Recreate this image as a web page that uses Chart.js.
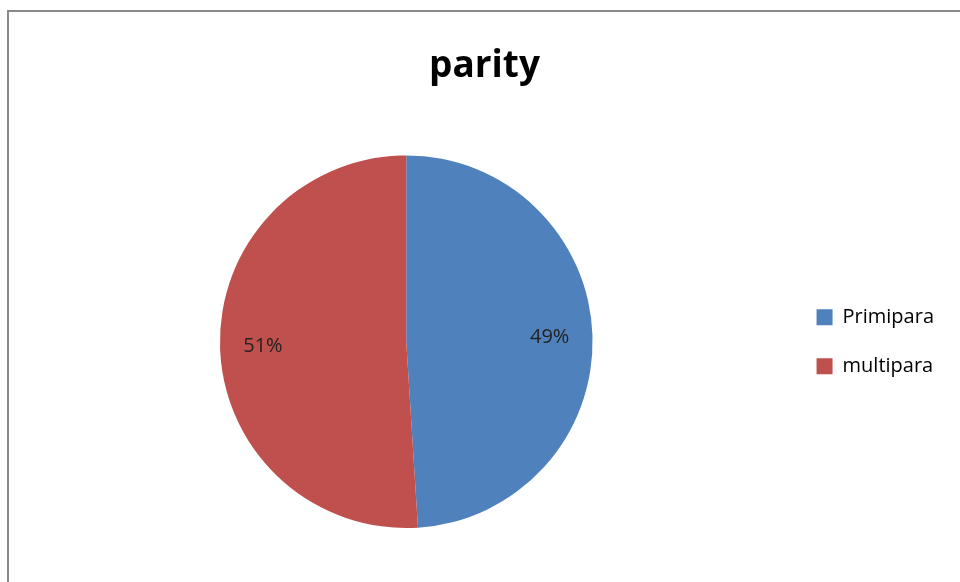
<!DOCTYPE html>
<html>
<head>
<meta charset="utf-8">
<script src="https://cdn.jsdelivr.net/npm/chart.js@4"></script>
<style>
  html, body { margin: 0; padding: 0; background: #fff; }
  #frame {
    position: absolute; left: 0; top: 0; width: 960px; height: 582px;
  }
  #frame:before {
    content: ''; position: absolute; left: 7px; top: 10px; right: -5px; bottom: -5px;
    border-left: 2px solid #8a8a8a; border-top: 2px solid #8a8a8a;
  }
  canvas { position: absolute; left: 0; top: 0; }
</style>
</head>
<body>
<div id="frame"><canvas id="ctx_parity" width="960" height="582"></canvas></div>
<script>
const categories = ['Primipara', 'multipara'];
const values = [49, 51];
const sliceColors = ['#4f81bd', '#c0504d'];
const chartTitle = 'parity';

const ctx_parity = document.getElementById('ctx_parity');

// percentage labels inside the slices
const sliceLabels = {
    id: 'sliceLabels',
    afterDatasetsDraw(chart) {
        const c = chart.ctx;
        const meta = chart.getDatasetMeta(0);
        const total = values.reduce((a, b) => a + b, 0);
        c.save();
        c.font = '20px "Open Sans"';
        c.fillStyle = '#222';
        c.textAlign = 'center';
        c.textBaseline = 'middle';
        meta.data.forEach((arc, i) => {
            const mid = (arc.startAngle + arc.endAngle) / 2;
            const r = arc.outerRadius * 0.77;
            const x = arc.x + Math.cos(mid) * r;
            const y = arc.y + Math.sin(mid) * r;
            c.fillText(Math.round(values[i] / total * 100) + '%', x, y);
        });
        c.restore();
    }
};

new Chart(ctx_parity, {
    type: 'pie',
    data: {
        labels: categories,
        datasets: [{
            data: values,
            backgroundColor: sliceColors,
            borderWidth: 0
        }]
    },
    options: {
        responsive: false,
        animation: false,
        layout: {
            padding: { left: 25, right: 16, top: 10, bottom: 54 }
        },
        plugins: {
            title: {
                display: true,
                text: chartTitle,
                color: '#000',
                font: { family: 'Open Sans', size: 37, weight: 'bold' },
                padding: { top: 34, bottom: 67 }
            },
            legend: {
                position: 'right',
                fullSize: false,
                labels: {
                    color: '#000',
                    boxWidth: 16,
                    boxHeight: 16,
                    padding: 29,
                    font: { family: 'Open Sans', size: 20 }
                }
            },
            tooltip: { enabled: false }
        }
    },
    plugins: [sliceLabels]
});
</script>
</body>
</html>
